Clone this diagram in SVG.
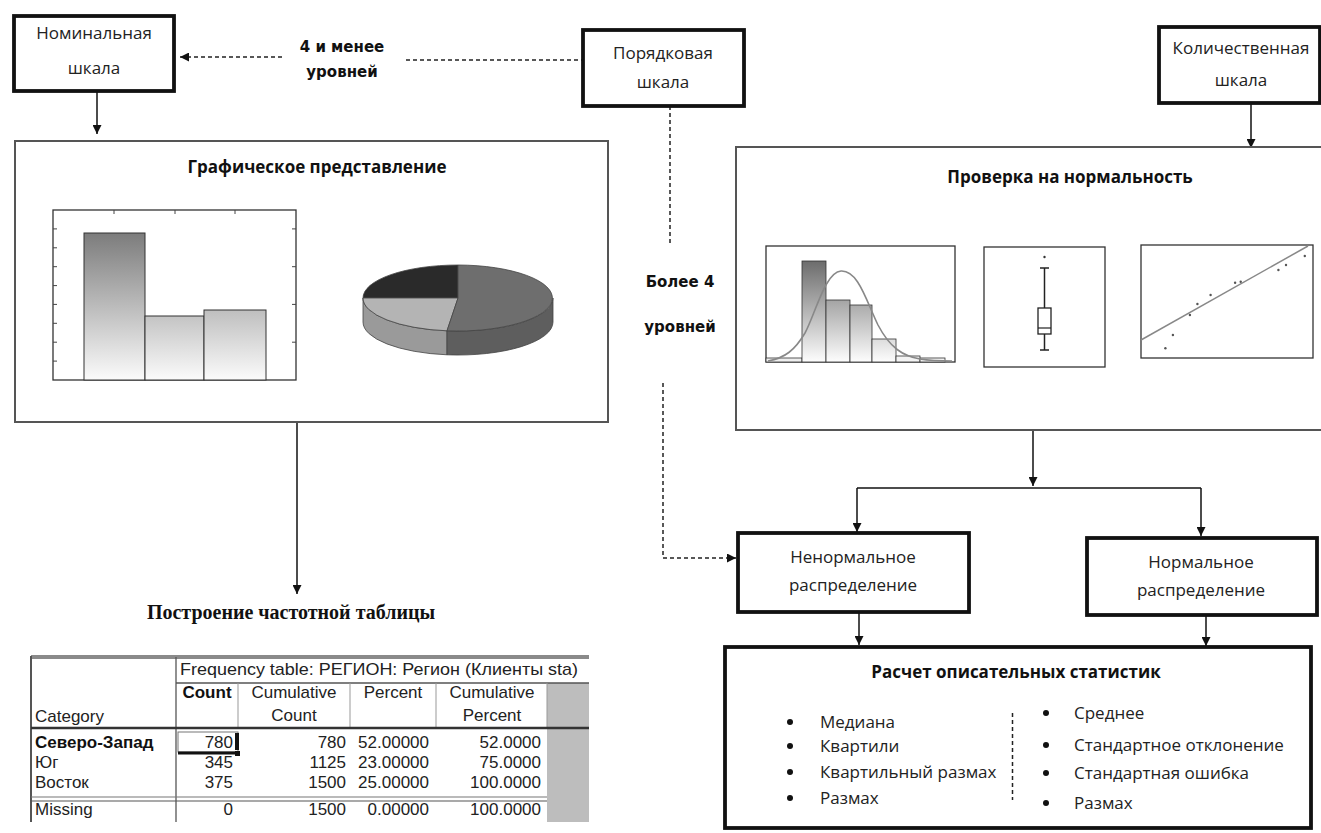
<svg xmlns="http://www.w3.org/2000/svg" width="1321" height="833" viewBox="0 0 1321 833">
<defs>
<style>
.box{fill:#fff;stroke:#111;stroke-width:3.8}
.panel{fill:#fff;stroke:#555;stroke-width:2}
.lbl{font-family:"Open Sans","Noto Sans",sans-serif;font-size:17px;fill:#222;text-anchor:middle}
.ttl{font-family:"Open Sans","Noto Sans",sans-serif;font-size:17px;font-weight:bold;fill:#111;text-anchor:middle}
.cond{font-family:"DejaVu Sans",sans-serif;font-size:15px;font-weight:bold;fill:#111;text-anchor:middle}
.item{font-family:"Open Sans","Noto Sans",sans-serif;font-size:17px;fill:#222}
.tb{font-family:"Liberation Sans",Arial,sans-serif;font-size:17px;fill:#222}
.tbb{font-family:"Liberation Sans",Arial,sans-serif;font-size:17px;font-weight:bold;fill:#111}
.ln{fill:none;stroke:#111;stroke-width:1.5}
.dash{fill:none;stroke:#222;stroke-width:1.5;stroke-dasharray:4 3}
.frame{fill:#fff;stroke:#333;stroke-width:1.3}
.tick{stroke:#444;stroke-width:1}
.tl{stroke:#555;stroke-width:1.3}
.bul{fill:#111}
</style>
<marker id="ah" viewBox="0 0 10 10" refX="10" refY="5" markerWidth="9" markerHeight="9" markerUnits="userSpaceOnUse" orient="auto">
<path d="M0,0 L10,5 L0,10 z" fill="#111"/>
</marker>
<linearGradient id="gbar" gradientUnits="userSpaceOnUse" x1="0" y1="233" x2="0" y2="380">
<stop offset="0" stop-color="#7c7c7c"/><stop offset="1" stop-color="#fbfbfb"/>
</linearGradient>
<linearGradient id="ghist" gradientUnits="userSpaceOnUse" x1="0" y1="261" x2="0" y2="362">
<stop offset="0" stop-color="#6c6c6c"/><stop offset="1" stop-color="#fdfdfd"/>
</linearGradient>
</defs>
<rect width="1321" height="833" fill="#fff"/>

<g id="connectors">
<path class="ln" d="M97,91 V134" marker-end="url(#ah)"/>
<path class="dash" d="M282,57 H180" marker-end="url(#ah)"/>
<path class="dash" d="M406,60 H583"/>
<path class="dash" d="M670,106 V246"/>
<path class="dash" d="M663,383 V558 H736" marker-end="url(#ah)"/>
<path class="ln" d="M1251,103 V148" marker-end="url(#ah)"/>
<path class="ln" d="M297,422 V594" marker-end="url(#ah)"/>
<path class="ln" d="M1033,430 V486" marker-end="url(#ah)"/>
<path class="ln" d="M857,488 H1201"/>
<path class="ln" d="M857,488 V532" marker-end="url(#ah)"/>
<path class="ln" d="M1201,488 V536" marker-end="url(#ah)"/>
<path class="ln" d="M859,612 V645" marker-end="url(#ah)"/>
<path class="ln" d="M1206,615 V646" marker-end="url(#ah)"/>
</g>

<g id="cond-4-less">
<text class="cond" x="342" y="52">4 и менее</text>
<text class="cond" x="342" y="77">уровней</text>
</g>
<g id="cond-more-4">
<text class="cond" x="680" y="287">Более 4</text>
<text class="cond" x="680" y="332">уровней</text>
</g>

<g id="node-nominal">
<rect class="box" x="14" y="16" width="160" height="75"/>
<text class="lbl" x="94" y="39">Номинальная</text>
<text class="lbl" x="94" y="74">шкала</text>
</g>

<g id="node-ordinal">
<rect class="box" x="583" y="30" width="161" height="76"/>
<text class="lbl" x="663" y="59">Порядковая</text>
<text class="lbl" x="663" y="88">шкала</text>
</g>

<g id="node-quant">
<rect class="box" x="1159" y="27" width="161" height="76"/>
<text class="lbl" x="1241" y="54">Количественная</text>
<text class="lbl" x="1241" y="86">шкала</text>
</g>

<g id="node-graphics">
<rect class="panel" x="15" y="141" width="593" height="281"/>
<text class="ttl" x="317" y="173">Графическое представление</text>
<rect class="frame" x="53" y="210" width="243" height="170"/>
<g class="tick">
<line x1="53" y1="228.9" x2="57" y2="228.9"/><line x1="53" y1="247.8" x2="57" y2="247.8"/><line x1="53" y1="266.7" x2="57" y2="266.7"/><line x1="53" y1="285.6" x2="57" y2="285.6"/><line x1="53" y1="304.4" x2="57" y2="304.4"/><line x1="53" y1="323.3" x2="57" y2="323.3"/><line x1="53" y1="342.2" x2="57" y2="342.2"/><line x1="53" y1="361.1" x2="57" y2="361.1"/>
<line x1="296" y1="228.9" x2="292" y2="228.9"/><line x1="296" y1="266.7" x2="292" y2="266.7"/><line x1="296" y1="304.4" x2="292" y2="304.4"/><line x1="296" y1="342.2" x2="292" y2="342.2"/>
<line x1="114" y1="210" x2="114" y2="214"/><line x1="175" y1="210" x2="175" y2="214"/><line x1="235" y1="210" x2="235" y2="214"/>
</g>
<rect x="84" y="233" width="61" height="147" fill="url(#gbar)" stroke="#333" stroke-width="1"/>
<rect x="145" y="316" width="59" height="64" fill="url(#gbar)" stroke="#333" stroke-width="1"/>
<rect x="204" y="310" width="62" height="70" fill="url(#gbar)" stroke="#333" stroke-width="1"/>
<path d="M363,298 A95,33 0 0 0 447,330.8 L447,354.8 A95,33 0 0 1 363,322 Z" fill="#9a9a9a" stroke="#444" stroke-width="0.8"/>
<path d="M447,330.8 A95,33 0 0 0 553,298 L553,322 A95,33 0 0 1 447,354.8 Z" fill="#5e5e5e" stroke="#444" stroke-width="0.8"/>
<path d="M458,298 L458,265 A95,33 0 0 0 363,298 Z" fill="#2a2a2a" stroke="#444" stroke-width="0.8"/>
<path d="M458,298 L363,298 A95,33 0 0 0 447,330.8 Z" fill="#b4b4b4" stroke="#444" stroke-width="0.8"/>
<path d="M458,298 L447,330.8 A95,33 0 1 0 458,265 Z" fill="#6e6e6e" stroke="#444" stroke-width="0.8"/>
</g>

<g id="node-freq-title">
<text x="291" y="619" font-family="'Liberation Serif','Times New Roman',serif" font-size="20" font-weight="bold" fill="#111" text-anchor="middle">Построение частотной таблицы</text>
</g>

<g id="node-table">
<rect x="547" y="683" width="42" height="139" fill="#bdbdbd"/>
<line x1="31" y1="657" x2="589" y2="657" stroke="#8a8a8a" stroke-width="4"/>
<line x1="31" y1="656" x2="31" y2="822" stroke="#555" stroke-width="2"/>
<line x1="176" y1="657" x2="176" y2="822" class="tl"/>
<line x1="176" y1="683" x2="589" y2="683" class="tl"/>
<line x1="238" y1="683" x2="238" y2="728" stroke="#999" stroke-width="1"/>
<line x1="350" y1="683" x2="350" y2="728" stroke="#999" stroke-width="1"/>
<line x1="436" y1="683" x2="436" y2="728" stroke="#999" stroke-width="1"/>
<line x1="547" y1="683" x2="547" y2="728" stroke="#999" stroke-width="1"/>
<line x1="31" y1="728" x2="589" y2="728" stroke="#333" stroke-width="2.5"/>
<line x1="31" y1="797" x2="547" y2="797" stroke="#777" stroke-width="1.2"/>
<line x1="31" y1="801" x2="547" y2="801" stroke="#555" stroke-width="1.2"/>
<rect x="178" y="732" width="60" height="20" fill="none" stroke="#777" stroke-width="1"/>
<line x1="178" y1="753" x2="238" y2="753" stroke="#111" stroke-width="3"/>
<rect x="235" y="733" width="4" height="17" fill="#111"/>
<rect x="235" y="751" width="5" height="5" fill="#111"/>
<text class="tb" x="180" y="675" textLength="398" lengthAdjust="spacingAndGlyphs">Frequency table: РЕГИОН: Регион (Клиенты sta)</text>
<text class="tbb" x="207" y="698" text-anchor="middle">Count</text>
<text class="tb" x="294" y="698" text-anchor="middle">Cumulative</text>
<text class="tb" x="294" y="721" text-anchor="middle">Count</text>
<text class="tb" x="393" y="698" text-anchor="middle">Percent</text>
<text class="tb" x="492" y="698" text-anchor="middle">Cumulative</text>
<text class="tb" x="492" y="721" text-anchor="middle">Percent</text>
<text class="tb" x="35" y="722">Category</text>
<text class="tbb" x="35" y="748">Северо-Запад</text>
<text class="tb" x="35" y="768">Юг</text>
<text class="tb" x="35" y="788">Восток</text>
<text class="tb" x="35" y="815">Missing</text>
<g text-anchor="end">
<text class="tb" x="233" y="748">780</text>
<text class="tb" x="233" y="768">345</text>
<text class="tb" x="233" y="788">375</text>
<text class="tb" x="233" y="815">0</text>
<text class="tb" x="346" y="748">780</text>
<text class="tb" x="346" y="768">1125</text>
<text class="tb" x="346" y="788">1500</text>
<text class="tb" x="346" y="815">1500</text>
<text class="tb" x="429" y="748">52.00000</text>
<text class="tb" x="429" y="768">23.00000</text>
<text class="tb" x="429" y="788">25.00000</text>
<text class="tb" x="429" y="815">0.00000</text>
<text class="tb" x="541" y="748">52.0000</text>
<text class="tb" x="541" y="768">75.0000</text>
<text class="tb" x="541" y="788">100.0000</text>
<text class="tb" x="541" y="815">100.0000</text>
</g>
</g>

<g id="node-normality">
<rect class="panel" x="736" y="147" width="592" height="283"/>
<text class="ttl" x="1070" y="183">Проверка на нормальность</text>
<rect class="frame" x="766" y="246" width="189" height="116"/>
<rect x="766" y="358" width="36" height="4" fill="#eee" stroke="#333" stroke-width="0.8"/>
<rect x="802" y="261" width="24" height="101" fill="url(#ghist)" stroke="#333" stroke-width="0.8"/>
<rect x="826" y="300" width="24" height="62" fill="url(#ghist)" stroke="#333" stroke-width="0.8"/>
<rect x="850" y="305" width="22" height="57" fill="url(#ghist)" stroke="#333" stroke-width="0.8"/>
<rect x="872" y="339" width="24" height="23" fill="url(#ghist)" stroke="#333" stroke-width="0.8"/>
<rect x="896" y="356" width="24" height="6" fill="#f3f3f3" stroke="#333" stroke-width="0.8"/>
<rect x="920" y="358" width="25" height="4" fill="#f3f3f3" stroke="#333" stroke-width="0.8"/>
<path d="M768,361 C785,358 795,350 805,333 C815,315 825,272 841,271 C858,270 866,300 878,325 C890,348 903,356 920,359 C932,361 940,361 952,361" fill="none" stroke="#888" stroke-width="1.6"/>
<rect class="frame" x="984" y="247" width="121" height="120"/>
<line x1="1044.5" y1="268" x2="1044.5" y2="350" stroke="#222" stroke-width="1.5"/>
<line x1="1040" y1="268" x2="1049" y2="268" stroke="#222" stroke-width="1.5"/>
<line x1="1040" y1="350" x2="1049" y2="350" stroke="#222" stroke-width="1.5"/>
<rect x="1038" y="308" width="13" height="26" fill="#fff" stroke="#222" stroke-width="1.3"/>
<line x1="1038" y1="328" x2="1051" y2="328" stroke="#222" stroke-width="1.2"/>
<circle cx="1044.5" cy="257" r="1.2" fill="#333"/>
<rect class="frame" x="1141" y="245" width="172" height="113"/>
<line x1="1141" y1="340" x2="1308" y2="246" stroke="#888" stroke-width="1.5"/>
<g fill="#555">
<circle cx="1165.4" cy="348.3" r="1.2"/><circle cx="1172.9" cy="335" r="1.2"/><circle cx="1189.9" cy="315" r="1.2"/><circle cx="1197.4" cy="304" r="1.2"/><circle cx="1210.6" cy="295" r="1.2"/><circle cx="1235.1" cy="282.7" r="1.2"/><circle cx="1240.7" cy="281.7" r="1.2"/><circle cx="1278.4" cy="270" r="1.2"/><circle cx="1286" cy="265" r="1.2"/><circle cx="1304.8" cy="256" r="1.2"/>
</g>
</g>

<g id="node-nonnormal">
<rect class="box" x="738" y="533" width="231" height="79"/>
<text class="lbl" x="853" y="563">Ненормальное</text>
<text class="lbl" x="853" y="591">распределение</text>
</g>

<g id="node-normal">
<rect class="box" x="1087" y="538" width="230" height="77"/>
<text class="lbl" x="1201" y="568">Нормальное</text>
<text class="lbl" x="1201" y="596">распределение</text>
</g>

<g id="node-descriptive">
<rect class="box" x="725" y="647" width="586" height="181"/>
<text class="ttl" x="1016" y="678" font-size="16">Расчет описательных статистик</text>
<line x1="1012.5" y1="713" x2="1012.5" y2="800" class="dash" stroke-width="1.2"/>
<g class="bul">
<circle cx="790" cy="722" r="3"/><circle cx="790" cy="746" r="3"/><circle cx="790" cy="772" r="3"/><circle cx="790" cy="798" r="3"/>
<circle cx="1046" cy="713" r="3"/><circle cx="1046" cy="745" r="3"/><circle cx="1046" cy="773" r="3"/><circle cx="1046" cy="803" r="3"/>
</g>
<g class="item">
<text x="820" y="728">Медиана</text>
<text x="820" y="752">Квартили</text>
<text x="820" y="778">Квартильный размах</text>
<text x="820" y="804">Размах</text>
<text x="1074" y="719">Среднее</text>
<text x="1074" y="751">Стандартное отклонение</text>
<text x="1074" y="779">Стандартная ошибка</text>
<text x="1074" y="809">Размах</text>
</g>
</g>
</svg>
